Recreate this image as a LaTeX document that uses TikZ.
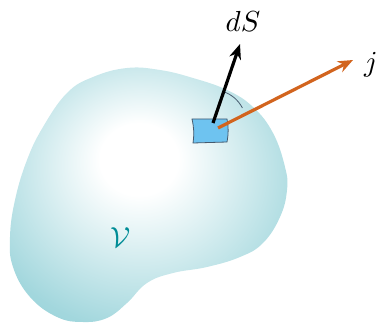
\documentclass[tikz,border=0pt]{standalone}
\usepackage{amsmath}
\usepackage{amssymb}
\usepackage{tikz}
\usetikzlibrary{arrows.meta,positioning}

\definecolor{blobteal}{RGB}{132,202,210}
\definecolor{patchblue}{RGB}{110,195,240}
\definecolor{patchedge}{RGB}{70,90,110}
\definecolor{jorange}{RGB}{210,100,30}
\definecolor{vteal}{RGB}{0,140,150}
\pgfdeclareradialshading{blobshade}{\pgfpoint{-2bp}{8bp}}{%
  color(0bp)=(white); color(7bp)=(white); color(30bp)=(blobteal!75);
  color(44bp)=(blobteal); color(50bp)=(blobteal!90!black)}

\begin{document}
\begin{tikzpicture}[x=1pt,y=1pt,
    vec/.style={line width=3.2pt,-{Stealth[length=15pt,width=12pt]}},
    lab/.style={scale=2.9,transform shape,inner sep=1pt}]
        \useasboundingbox (0,0) rectangle (382,324);
        % the volume
        \shade[shading=blobshade] plot[smooth cycle,tension=0.7] coordinates {
            (43,197) (67,231) (93,247) (127,256) (160,254) (193,246)
            (227,234) (253,217) (273,191) (285,157) (287,134) (280,107)
            (263,81) (240,67) (207,57) (173,51) (147,41) (127,21)
            (107,6) (83,2) (57,7) (30,27) (13,57) (10,87) (15,124) (27,164)};
        \node[lab,text=vteal] (vol) at (121,86) {$\mathcal{V}$};
        % surface element
        \filldraw[fill=patchblue,draw=patchedge,line width=0.8pt]
            (192,205) -- (227,205) to[bend left=10] (227,182)
            -- (193,181) to[bend right=10] cycle;
        \coordinate (tail) at (213,201);
        \coordinate (jtail) at (218,196);
        \coordinate (dstip) at (240,280);
        \coordinate (jtip) at (353,264);
        \draw[patchedge,line width=0.8pt] (tail) ++(71:33) arc (71:27:33);
        \draw[vec,black] (tail) -- (dstip);
        \draw[vec,jorange] (jtail) -- (jtip);
        \node[lab] (dS) at (243,303) {$dS$};
        \node[lab] (j) at (371,259) {$j$};
    \end{tikzpicture}
\end{document}
